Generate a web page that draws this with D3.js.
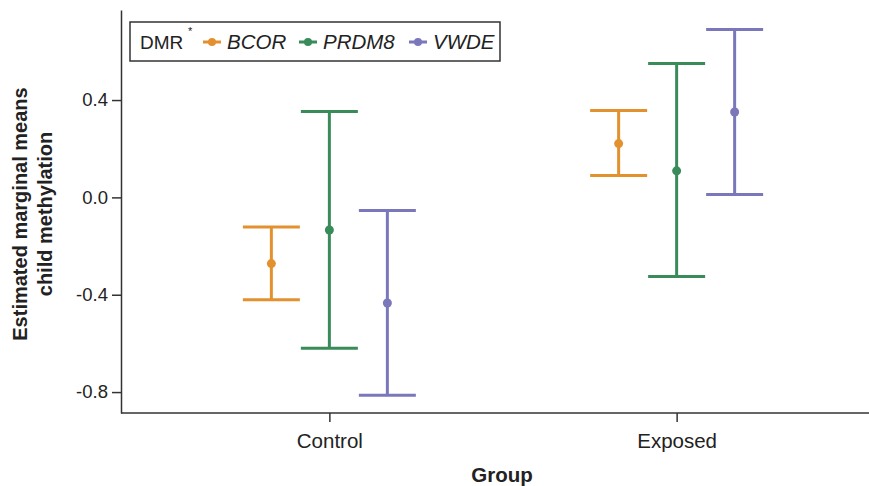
<!DOCTYPE html>
<html>
<head>
<meta charset="utf-8">
<script src="https://cdn.jsdelivr.net/npm/d3@7"></script>
<style>
  body { margin: 0; background: #fff; }
  text { font-family: "Liberation Sans", Arial, Helvetica, sans-serif; fill: #222; }
</style>
</head>
<body>
<svg width="869" height="486"></svg>
<script>
// data
var groups = ["Control", "Exposed"];
var genes = ["BCOR", "PRDM8", "VWDE"];
var means = [[-0.272, -0.134, -0.434], [0.221, 0.109, 0.351]];
var lower = [[-0.421, -0.62, -0.813], [0.09, -0.325, 0.012]];
var upper = [[-0.122, 0.353, -0.054], [0.357, 0.55, 0.69]];
var yTicks = [-0.8, -0.4, 0.0, 0.4];
var colors = ["#e3912f", "#3a8b5a", "#7a77ba"];

function main() {
    var svg = d3.select("svg");

    var x = d3.scalePoint().domain(groups).range([121, 885]).padding(0.6);
    var dodge = d3.scalePoint().domain(genes).range([-58, 58]);
    var y = d3.scaleLinear().domain([-0.886, 0.77]).range([413, 10]);
    var color = d3.scaleOrdinal().domain(genes).range(colors);

    // flatten into rows
    var rows = [];
    groups.forEach(function(g, i) {
        genes.forEach(function(s, j) {
            rows.push({group: g, gene: s, mean: means[i][j], lo: lower[i][j], hi: upper[i][j]});
        });
    });

    // axes
    var xAxis = svg.append("g")
        .attr("transform", "translate(0,413)")
        .call(d3.axisBottom(x).tickSize(9).tickSizeOuter(0));
    xAxis.select(".domain").attr("d", "M121,0H869");
    xAxis.selectAll("text").attr("dy", "1.1em").style("font-size", "20.5px");

    var yAxis = svg.append("g")
        .attr("transform", "translate(121,0)")
        .call(d3.axisLeft(y).tickValues(yTicks).tickSize(9).tickSizeOuter(0)
              .tickFormat(function(d) { return d.toFixed(1); }));
    yAxis.selectAll("text").style("font-size", "18.5px").attr("x", -13);

    svg.selectAll(".domain, .tick line").attr("stroke", "#333").attr("stroke-width", 1.5);

    // error bars
    var bars = svg.append("g").selectAll("g")
        .data(rows).enter().append("g")
        .attr("transform", function(d) { return "translate(" + (x(d.group) + dodge(d.gene)) + ",0)"; })
        .attr("stroke", function(d) { return color(d.gene); })
        .attr("stroke-width", 3);

    bars.append("line")
        .attr("y1", function(d) { return y(d.lo); })
        .attr("y2", function(d) { return y(d.hi); });
    bars.append("line")
        .attr("x1", -28.5).attr("x2", 28.5)
        .attr("y1", function(d) { return y(d.hi); })
        .attr("y2", function(d) { return y(d.hi); });
    bars.append("line")
        .attr("x1", -28.5).attr("x2", 28.5)
        .attr("y1", function(d) { return y(d.lo); })
        .attr("y2", function(d) { return y(d.lo); });
    bars.append("circle")
        .attr("cy", function(d) { return y(d.mean); })
        .attr("r", 4.5)
        .attr("stroke", "none")
        .attr("fill", function(d) { return color(d.gene); });

    // axis titles
    svg.append("text")
        .attr("x", 502).attr("y", 482)
        .attr("text-anchor", "middle")
        .style("font-weight", "bold").style("font-size", "20.5px")
        .text("Group");

    var yt = svg.append("text")
        .attr("transform", "translate(27,214) rotate(-90)")
        .attr("text-anchor", "middle")
        .style("font-weight", "bold").style("font-size", "20px");
    yt.append("tspan").attr("x", 0).attr("y", 0).text("Estimated marginal means");
    yt.append("tspan").attr("x", 0).attr("y", 25).text("child methylation");

    // legend
    var leg = svg.append("g");
    leg.append("rect")
        .attr("x", 130).attr("y", 22).attr("width", 370).attr("height", 39)
        .attr("fill", "#fff").attr("stroke", "#333").attr("stroke-width", 1.5);
    leg.append("text").attr("x", 140).attr("y", 48.5)
        .style("font-size", "19px").text("DMR");
    leg.append("text").attr("x", 188).attr("y", 35)
        .style("font-size", "11px").text("*");

    var legX = [212, 308, 418];
    var item = leg.selectAll(".item").data(genes).enter().append("g")
        .attr("class", "item")
        .attr("transform", function(d, i) { return "translate(" + legX[i] + ",42)"; });
    item.append("line")
        .attr("x1", -9).attr("x2", 9)
        .attr("stroke", function(d) { return color(d); })
        .attr("stroke-width", 3);
    item.append("circle").attr("r", 4)
        .attr("fill", function(d) { return color(d); });
    item.append("text")
        .attr("x", 15).attr("y", 6.5)
        .style("font-size", "20.5px").style("font-style", "italic")
        .text(function(d) { return d; });
}
main();
</script>
</body>
</html>
